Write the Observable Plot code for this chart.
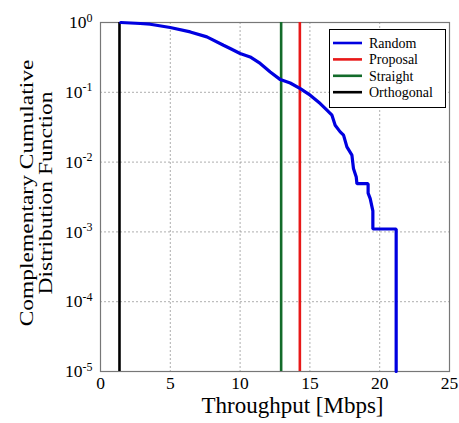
<!DOCTYPE html>
<html>
<head>
<meta charset="utf-8">
<script src="https://cdn.jsdelivr.net/npm/d3@7"></script>
<script src="https://cdn.jsdelivr.net/npm/@observablehq/plot@0.6"></script>
<style>
  html, body { margin: 0; padding: 0; background: #fff; }
  #chart { width: 459px; height: 423px; }
  #chart svg, #chart svg text { font-family: "Liberation Serif", "Times New Roman", serif !important; }
</style>
</head>
<body>
<div id="chart"></div>
<script>
// ---- data ----
const seriesNames = ["Random", "Proposal", "Straight", "Orthogonal"];
const seriesColors = ["#0000e0", "#e81818", "#136b2a", "#000000"];

// Random: CCDF of throughput (step-like tail)
const randomX = [1.45, 2.84, 3.56, 4.99, 6.43, 7.62, 8.81, 9.29, 10.0, 10.72, 11.44, 12.16, 12.88, 13.59, 14.31, 15.02, 15.74, 16.22, 16.58, 16.81, 17.17, 17.41, 17.65, 18.01, 18.12, 18.32, 18.37, 19.17, 19.17, 19.32, 19.51, 19.51, 21.18, 21.18];
const randomY = [1.0, 0.968, 0.945, 0.848, 0.733, 0.622, 0.473, 0.424, 0.36, 0.321, 0.259, 0.196, 0.152, 0.136, 0.113, 0.091, 0.069, 0.0554, 0.047, 0.0338, 0.0271, 0.0243, 0.0165, 0.0126, 0.0081, 0.0061, 0.0049, 0.0049, 0.0036, 0.003, 0.002, 0.0011, 0.0011, 1e-5];

// Deterministic schemes: constant throughput (vertical step in CCDF)
const fixedNames = ["Proposal", "Straight", "Orthogonal"];
const fixedThroughput = [14.28, 12.94, 1.36];

const xTicks = [0, 5, 10, 15, 20, 25];
const yTicks = [1e-5, 1e-4, 1e-3, 1e-2, 1e-1, 1];
const xTitle = "Throughput [Mbps]";
const yTitleLines = ["Complementary Cumulative", "Distribution Function"];

// ---- build ----
const FONT = '"Liberation Serif", "Times New Roman", serif';
const randomData = randomX.map((x, i) => ({x, y: randomY[i]}));
const fixedData = fixedNames.map((name, i) => ({name, x: fixedThroughput[i]}));
const color = d3.scaleOrdinal(seriesNames, seriesColors);

const chart = Plot.plot({
  width: 459,
  height: 423,
  marginLeft: 100,
  marginRight: 10,
  marginTop: 22,
  marginBottom: 52,
  style: {fontFamily: FONT, fontSize: "16px", background: "#fff", color: "#000"},
  x: {domain: [0, 25]},
  y: {type: "log", domain: [1e-5, 1]},
  marks: [
    Plot.gridX(xTicks, {stroke: "#999", strokeOpacity: 1, strokeDasharray: "2,2", strokeWidth: 0.8}),
    Plot.gridY(yTicks, {stroke: "#999", strokeOpacity: 1, strokeDasharray: "2,2", strokeWidth: 0.8}),
    Plot.frame({stroke: "#777", strokeWidth: 1.2}),
    Plot.axisX(xTicks, {tickSize: 0, tickPadding: 5, fontSize: 17.5, label: null, tickFormat: d => String(d)}),
    Plot.axisY(yTicks, {tickSize: 0, tickPadding: 8, fontSize: 17.5, label: null, tickFormat: d => "10|" + Math.round(Math.log10(d))}),
    Plot.ruleX(fixedData, {x: "x", y1: 1e-5, y2: 1, stroke: d => color(d.name), strokeWidth: 2.6}),
    Plot.line(randomData, {x: "x", y: "y", stroke: color("Random"), strokeWidth: 3.2, strokeLinejoin: "miter"})
  ]
});

document.getElementById("chart").appendChild(chart);
const svg = d3.select(chart);

// superscript exponents on y tick labels
svg.selectAll('g[aria-label="y-axis tick label"] text').each(function() {
  const t = d3.select(this);
  const s = t.text();
  if (!s.includes("|")) return;
  const [base, exp] = s.split("|");
  t.text(null);
  t.append("tspan").text(base);
  t.append("tspan").attr("dy", "-0.55em").attr("font-size", "12px").text(exp);
});

// axis titles
svg.append("text")
  .attr("x", 292.5).attr("y", 413)
  .attr("text-anchor", "middle")
  .attr("font-family", FONT)
  .attr("font-size", 23)
  .attr("fill", "#000")
  .text(xTitle);

yTitleLines.forEach((line, i) => {
  svg.append("text")
    .attr("transform", `translate(${32.5 + i * 19},193) rotate(-90) scale(1,0.82)`)
    .attr("text-anchor", "middle")
    .attr("font-family", FONT)
    .attr("font-size", 23.5)
    .attr("fill", "#000")
    .text(line);
});

// legend
const lg = svg.append("g").attr("font-family", FONT).attr("font-size", 14).attr("text-anchor", "start");
lg.append("rect").attr("x", 329.5).attr("y", 29.5).attr("width", 116).attr("height", 78)
  .attr("fill", "#fff").attr("stroke", "#000").attr("stroke-width", 1);
seriesNames.forEach((name, i) => {
  const y = 43 + i * 16.4;
  lg.append("line").attr("x1", 333).attr("x2", 362).attr("y1", y).attr("y2", y)
    .attr("stroke", color(name)).attr("stroke-width", 2.6);
  lg.append("text").attr("x", 369).attr("y", y).attr("dy", "0.35em").attr("fill", "#000").text(name);
});
</script>
</body>
</html>
